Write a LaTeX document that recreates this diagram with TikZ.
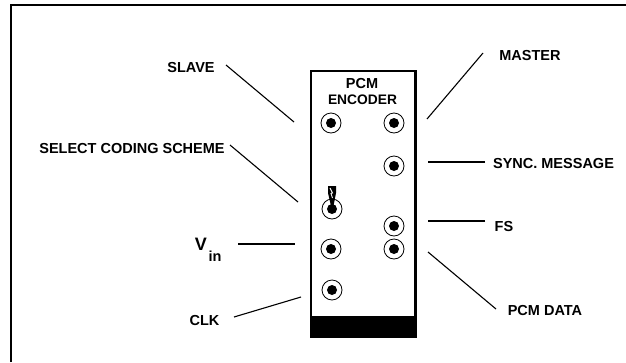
\documentclass[tikz,border=0pt]{standalone}
\usepackage{fontspec}
\setmainfont{Liberation Sans}
\tikzset{
    socket/.style={circle, draw=black, line width=0.8pt, fill=white, minimum size=20pt, inner sep=0pt},
    pin/.style={circle, fill=black, minimum size=10pt, inner sep=0pt},
    wire/.style={line width=1.1pt},
    lbl/.style={font=\fontsize{14.5}{16}\selectfont\bfseries, inner sep=0pt}
}

\begin{document}
\begin{tikzpicture}[x=1pt,y=-1pt]
    \useasboundingbox (0,0) rectangle (626,362);
    % outer frame, left and top only
    \draw [line width=1.5pt] (11,362)--(11,5)--(626,5);
    % module
    \draw [line width=2.7pt] (311,71) rectangle (415.7,337);
    \fill (310,316) rectangle (417,338);
    \node [lbl] (title1) at (362,83.5) {PCM};
    \node [lbl, font=\fontsize{13.8}{16}\selectfont\bfseries] (title2) at (362.5,99.5) {ENCODER};
    % sockets
    \node [socket] (S1) at (331,123) {};
    \node [socket] (S2) at (394,123) {};
    \node [socket] (S3) at (394,166) {};
    \node [socket] (S4) at (332,209) {};
    \node [socket] (S5) at (394,226) {};
    \node [socket] (S6) at (331,249) {};
    \node [socket] (S7) at (394,249) {};
    \node [socket] (S8) at (332,290) {};
    \foreach \s in {S1,S2,S3,S4,S5,S6,S7,S8}
        \node [pin] (\s pin) at (\s) {};
    % switch on the coding socket
    \fill (328,186)--(336,186)--(336,193)--(333.5,206)--(331,206)--(328,193)--cycle;
    \draw [white, line width=0.9pt] (330,188)--(332.5,193)--(331,193.5)--(332.5,198);
    % labels
    \node [lbl] (slave) at (191,67.5) {SLAVE};
    \node [lbl] (select) at (132,148.5) {SELECT CODING SCHEME};
    \node [lbl] (master) at (530,55.5) {MASTER};
    \node [lbl] (sync) at (553.5,163.5) {SYNC. MESSAGE};
    \node [lbl] (fs) at (504,226.5) {FS};
    \node [lbl] (data) at (545,310.5) {PCM DATA};
    \node [lbl, font=\fontsize{18}{20}\selectfont\bfseries] (vin) at (201,244.5) {V};
    \node [lbl] (vinsub) at (215,256.5) {in};
    \node [lbl] (clk) at (204.5,320.5) {CLK};
    % pointer lines
    \coordinate (a1) at (226,65);   \coordinate (a2) at (294,122);
    \coordinate (b1) at (230,145);  \coordinate (b2) at (298,202);
    \coordinate (c1) at (483,53);   \coordinate (c2) at (427,119);
    \coordinate (d1) at (485,162);  \coordinate (d2) at (428,162);
    \coordinate (e1) at (485,221);  \coordinate (e2) at (428,221);
    \coordinate (f1) at (496,309);  \coordinate (f2) at (428,252);
    \coordinate (g1) at (238,244);  \coordinate (g2) at (295,244);
    \coordinate (h1) at (234,317);  \coordinate (h2) at (301,297);
    \foreach \p/\q in {a1/a2,b1/b2,c1/c2,d1/d2,e1/e2,f1/f2,g1/g2,h1/h2}
        \draw [wire] (\p)--(\q);
\end{tikzpicture}
\end{document}
